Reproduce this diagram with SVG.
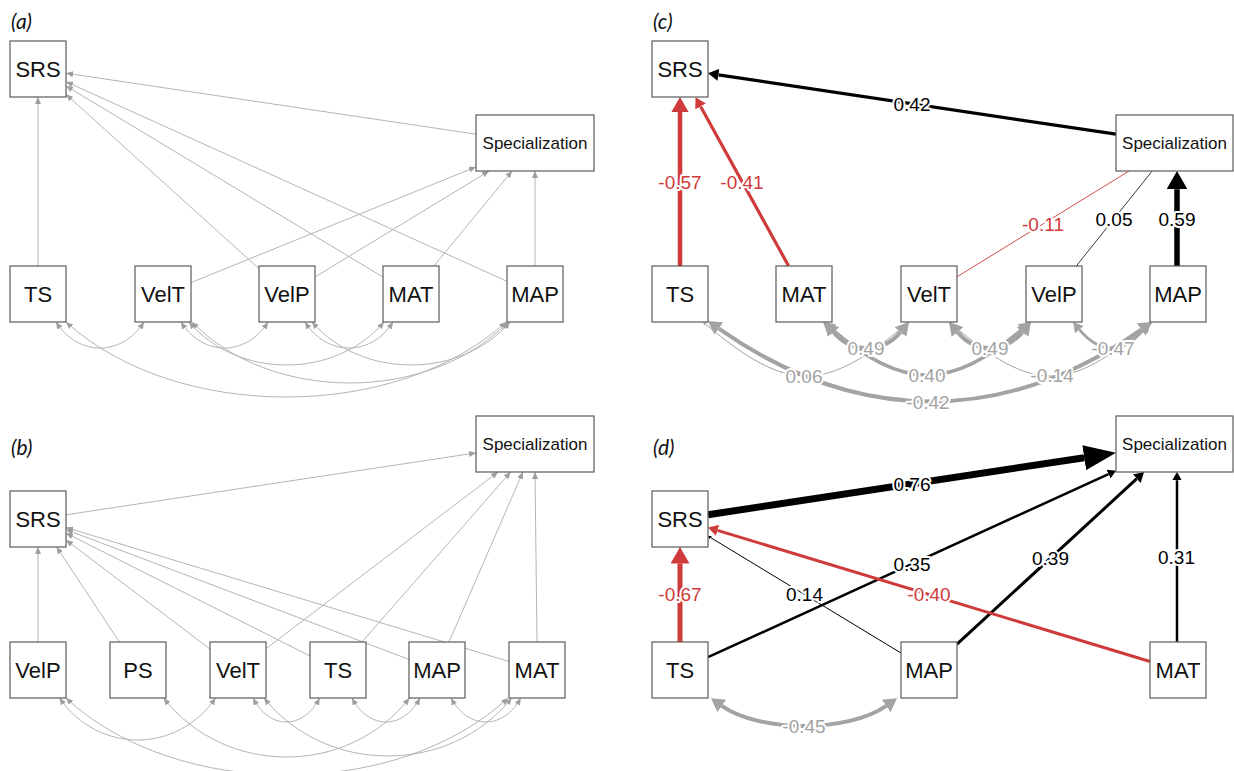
<svg xmlns="http://www.w3.org/2000/svg" width="1234" height="771" viewBox="0 0 1234 771">
<style>
.box{fill:#fff;stroke:#5a5a5a;stroke-width:1.2}
.nl{font-family:"Liberation Sans",Arial,sans-serif;font-size:22px;text-anchor:middle;fill:#111}
.sp{font-size:17px}
.pl{font-family:Lato,"Liberation Sans",sans-serif;font-style:italic;font-size:21px;fill:#111}
.ge{fill:none;stroke:#b4b4b4;stroke-width:1}
.ga{marker-end:url(#ag)}
.gc{marker-start:url(#ag);marker-end:url(#ag)}
.el{font-family:"Liberation Sans",Arial,sans-serif;font-size:19px;text-anchor:middle;stroke:#fff;stroke-width:4;stroke-linejoin:round;paint-order:stroke}
.rd{fill:#cf3a3a}
.bk{fill:#000}
.gy{fill:#a3a3a3}
.lr{fill:none;stroke:#cf3a3a}
.lk{fill:none;stroke:#000}
.lg{fill:none;stroke:#a3a3a3;marker-start:url(#aG);marker-end:url(#aG)}
</style>
<defs>
<marker id="ag" viewBox="0 0 7 6" refX="7" refY="3" markerWidth="7" markerHeight="6" markerUnits="userSpaceOnUse" orient="auto-start-reverse"><path d="M0,0 L7,3 L0,6 Z" fill="#9e9e9e"/></marker>
<marker id="aK" viewBox="0 0 3.3 3.8" refX="0" refY="1.9" markerWidth="3.3" markerHeight="3.8" orient="auto-start-reverse"><path d="M0,0 L3.3,1.9 L0,3.8 Z" fill="#000"/></marker>
<marker id="aR" viewBox="0 0 3.3 3.8" refX="0" refY="1.9" markerWidth="3.3" markerHeight="3.8" orient="auto-start-reverse"><path d="M0,0 L3.3,1.9 L0,3.8 Z" fill="#cf3a3a"/></marker>
<marker id="aG" viewBox="0 0 3.3 3.8" refX="0" refY="1.9" markerWidth="3.3" markerHeight="3.8" orient="auto-start-reverse"><path d="M0,0 L3.3,1.9 L0,3.8 Z" fill="#a3a3a3"/></marker>
<marker id="aKL" viewBox="0 0 4.6 3.6" refX="0" refY="1.8" markerWidth="4.6" markerHeight="3.6" orient="auto"><path d="M0,0 L4.6,1.8 L0,3.6 Z" fill="#000"/></marker>
</defs>
<rect width="1234" height="771" fill="#fff"/>

<g id="panel-labels">
<text class="pl" x="11" y="29">(a)</text>
<text class="pl" x="11" y="455">(b)</text>
<text class="pl" x="653" y="29">(c)</text>
<text class="pl" x="653" y="455">(d)</text>
</g>

<g id="connectors">
<g id="edges-a" class="ge">
<path class="ga" d="M38,266 L38,97"/>
<path class="ga" d="M476,134.2 L66,73.2"/>
<path class="ga" d="M259,268.7 L66,94.3"/>
<path class="ga" d="M383,277.1 L66,85.9"/>
<path class="ga" d="M507,281.3 L66,81.7"/>
<path class="ga" d="M191,282.6 L476,166.9"/>
<path class="ga" d="M315,277 L489.1,171"/>
<path class="ga" d="M433.9,266 L512.1,171"/>
<path class="ga" d="M535,266 L535,171"/>
<path class="gc" d="M56,322 C78,356.7 122,356.7 144,322"/>
<path class="gc" d="M66,322 C176,422 396,422 506,322"/>
<path class="gc" d="M181,322 C202.75,356.7 246.25,356.7 268,322"/>
<path class="gc" d="M189,322 C237.75,379.3 335.25,379.3 384,322"/>
<path class="gc" d="M192,322 C271,403.3 429,403.3 508,322"/>
<path class="gc" d="M305,322 C327,356.7 371,356.7 393,322"/>
<path class="gc" d="M312,322 C361.5,379.3 460.5,379.3 510,322"/>
</g>
<g id="edges-b" class="ge">
<path class="ga" d="M38,642 L38,547"/>
<path class="ga" d="M119.5,642 L56.5,547"/>
<path class="ga" d="M210,649 L66,540"/>
<path class="ga" d="M310,655.9 L66,533.1"/>
<path class="ga" d="M409,659.4 L66,529.6"/>
<path class="ga" d="M509,661.5 L66,527.5"/>
<path class="ga" d="M66,514.8 L476,452.9"/>
<path class="ga" d="M266,648.7 L498,472"/>
<path class="ga" d="M362,642 L510.6,472"/>
<path class="ga" d="M449,642 L522.9,472"/>
<path class="ga" d="M537,642 L535,472"/>
<path class="gc" d="M59.5,698 C98.5,754 176.6,754 215.6,698"/>
<path class="gc" d="M66,698 C176.5,800.7 397.5,800.7 508,698"/>
<path class="gc" d="M163.6,698 C225.1,776.7 348,776.7 409.5,698"/>
<path class="gc" d="M253,698 C269.7,730 303,730 319.7,698"/>
<path class="gc" d="M264,698 C326,775.3 449.7,775.3 511.7,698"/>
<path class="gc" d="M352,698 C369,730 403,730 420,698"/>
<path class="gc" d="M451,698 C468.4,730 503.3,730 520.7,698"/>
</g>
<g id="edges-c">
<path class="lg" stroke-width="4" d="M718.8,328.6 C856.6,425.1 1003.4,426.1 1141.2,329.6"/>
<path class="lg" stroke-width="1" d="M705.5,324.1 C788,393.3 824,393.3 906.5,324.1"/>
<path class="lg" stroke-width="1" d="M951.5,324.1 C1034,393.3 1067,393.3 1149.5,324.1"/>
<path class="lg" stroke-width="3.5" d="M831.85,329.4 C904.3,390.2 949.8,390.2 1022.15,329.4"/>
<path class="lg" stroke-width="4" d="M833.5,332.1 C851.3,353.3 882.7,353.3 900.5,332.1"/>
<path class="lg" stroke-width="4" d="M957.5,332.1 C975.3,353.3 1004.7,353.3 1022.5,332.1"/>
<path class="lg" stroke-width="3" d="M1079.4,329.6 C1100,354.1 1123,354.1 1143.6,329.6"/>
<path class="lr" stroke-width="4.5" marker-end="url(#aR)" d="M680,266 L680,111.9"/>
<path class="lr" stroke-width="3.2" marker-end="url(#aR)" d="M788.6,266 L700.6,106.4"/>
<path class="lk" stroke-width="3.2" marker-end="url(#aK)" d="M1116,134.2 L718.4,74.8"/>
<path class="lr" stroke-width="0.9" d="M957,276.8 L1129.1,171"/>
<path fill="none" stroke="#222" stroke-width="0.9" d="M1076.3,266 L1152.2,171"/>
<path class="lk" stroke-width="5.5" marker-end="url(#aK)" d="M1177,266 L1177,189.2"/>
<text class="el rd" x="680" y="188.8">-0.57</text>
<text class="el rd" x="742" y="188.8">-0.41</text>
<text class="el bk" x="912" y="110.8">0.42</text>
<text class="el rd" x="1043" y="230.8">-0.11</text>
<text class="el bk" x="1114" y="225.8">0.05</text>
<text class="el bk" x="1177" y="225.8">0.59</text>
<text class="el gy" x="866" y="354.8">0.49</text>
<text class="el gy" x="990" y="354.8">0.49</text>
<text class="el gy" x="1113" y="354.8">-0.47</text>
<text class="el gy" x="804" y="382.8">0.06</text>
<text class="el gy" x="927" y="381.8">0.40</text>
<text class="el gy" x="1052" y="381.8">-0.14</text>
<text class="el gy" x="928" y="408.8">-0.42</text>
</g>
<g id="edges-d">
<path class="lg" stroke-width="4" d="M721.8,705.9 C759.8,732.6 848.2,732.6 886.2,705.9"/>
<path class="lk" stroke-width="7" marker-end="url(#aKL)" d="M708,514.75 L1084.2,457.7"/>
<path class="lr" stroke-width="5" marker-end="url(#aR)" d="M680,642 L680,563.5"/>
<path class="lk" stroke-width="2.5" marker-end="url(#aK)" d="M708,657.2 L1108.5,474.1"/>
<path class="lk" stroke-width="1" marker-end="url(#aK)" d="M901,653 L710.8,537.7"/>
<path class="lk" stroke-width="3" marker-end="url(#aK)" d="M957,644.2 L1136.8,478.7"/>
<path class="lr" stroke-width="3" marker-end="url(#aR)" d="M1150,661.5 L717.5,530.4"/>
<path class="lk" stroke-width="2.5" marker-end="url(#aK)" d="M1177,642 L1177,480.25"/>
<text class="el bk" x="912" y="490.8">0.76</text>
<text class="el bk" x="912" y="570.8">0.35</text>
<text class="el bk" x="1050.5" y="564.8">0.39</text>
<text class="el bk" x="1176.5" y="563.8">0.31</text>
<text class="el rd" x="680" y="601.3">-0.67</text>
<text class="el bk" x="804.5" y="601.3">0.14</text>
<text class="el rd" x="929" y="601.3">-0.40</text>
<text class="el gy" x="804" y="732.8">-0.45</text>
</g>
</g>

<g id="a-SRS"><rect class="box" x="10" y="41" width="56" height="56"/><text class="nl" x="38" y="76.8">SRS</text></g>
<g id="a-Specialization"><rect class="box" x="476" y="115" width="118" height="56"/><text class="nl sp" x="535" y="149.1">Specialization</text></g>
<g id="a-TS"><rect class="box" x="10" y="266" width="56" height="56"/><text class="nl" x="38" y="301.8">TS</text></g>
<g id="a-VelT"><rect class="box" x="135" y="266" width="56" height="56"/><text class="nl" x="163" y="301.8">VelT</text></g>
<g id="a-VelP"><rect class="box" x="259" y="266" width="56" height="56"/><text class="nl" x="287" y="301.8">VelP</text></g>
<g id="a-MAT"><rect class="box" x="383" y="266" width="56" height="56"/><text class="nl" x="411" y="301.8">MAT</text></g>
<g id="a-MAP"><rect class="box" x="507" y="266" width="56" height="56"/><text class="nl" x="535" y="301.8">MAP</text></g>

<g id="b-Specialization"><rect class="box" x="476" y="416" width="118" height="56"/><text class="nl sp" x="535" y="450.1">Specialization</text></g>
<g id="b-SRS"><rect class="box" x="10" y="491" width="56" height="56"/><text class="nl" x="38" y="526.8">SRS</text></g>
<g id="b-VelP"><rect class="box" x="10" y="642" width="56" height="56"/><text class="nl" x="38" y="677.8">VelP</text></g>
<g id="b-PS"><rect class="box" x="110" y="642" width="56" height="56"/><text class="nl" x="138" y="677.8">PS</text></g>
<g id="b-VelT"><rect class="box" x="210" y="642" width="56" height="56"/><text class="nl" x="238" y="677.8">VelT</text></g>
<g id="b-TS"><rect class="box" x="310" y="642" width="56" height="56"/><text class="nl" x="338" y="677.8">TS</text></g>
<g id="b-MAP"><rect class="box" x="409" y="642" width="56" height="56"/><text class="nl" x="437" y="677.8">MAP</text></g>
<g id="b-MAT"><rect class="box" x="509" y="642" width="56" height="56"/><text class="nl" x="537" y="677.8">MAT</text></g>

<g id="c-SRS"><rect class="box" x="652" y="41" width="56" height="56"/><text class="nl" x="680" y="76.8">SRS</text></g>
<g id="c-Specialization"><rect class="box" x="1116" y="115" width="117" height="56"/><text class="nl sp" x="1174.5" y="149.1">Specialization</text></g>
<g id="c-TS"><rect class="box" x="652" y="266" width="56" height="56"/><text class="nl" x="680" y="301.8">TS</text></g>
<g id="c-MAT"><rect class="box" x="776" y="266" width="56" height="56"/><text class="nl" x="804" y="301.8">MAT</text></g>
<g id="c-VelT"><rect class="box" x="901" y="266" width="56" height="56"/><text class="nl" x="929" y="301.8">VelT</text></g>
<g id="c-VelP"><rect class="box" x="1026" y="266" width="56" height="56"/><text class="nl" x="1054" y="301.8">VelP</text></g>
<g id="c-MAP"><rect class="box" x="1150" y="266" width="56" height="56"/><text class="nl" x="1178" y="301.8">MAP</text></g>

<g id="d-Specialization"><rect class="box" x="1116" y="416" width="117" height="56"/><text class="nl sp" x="1174.5" y="450.1">Specialization</text></g>
<g id="d-SRS"><rect class="box" x="652" y="491" width="56" height="56"/><text class="nl" x="680" y="526.8">SRS</text></g>
<g id="d-TS"><rect class="box" x="652" y="642" width="56" height="56"/><text class="nl" x="680" y="677.8">TS</text></g>
<g id="d-MAP"><rect class="box" x="901" y="642" width="56" height="56"/><text class="nl" x="929" y="677.8">MAP</text></g>
<g id="d-MAT"><rect class="box" x="1150" y="642" width="56" height="56"/><text class="nl" x="1178" y="677.8">MAT</text></g>
</svg>
